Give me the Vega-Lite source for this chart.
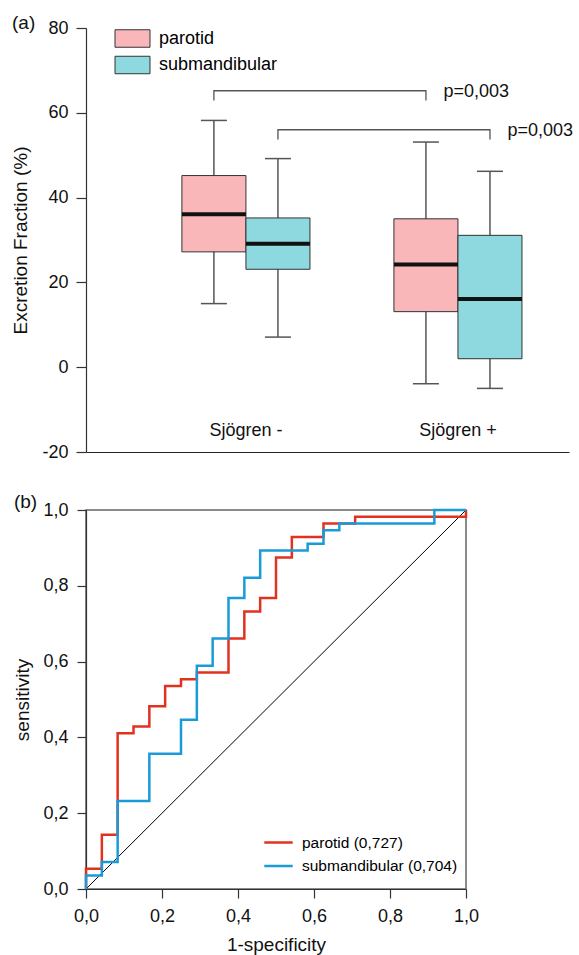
{
  "$schema": "https://vega.github.io/schema/vega-lite/v6.json",
  "padding": {"left": 11, "top": 14, "right": 0, "bottom": 0},
  "config": {
    "font": "Liberation Sans",
    "view": {"stroke": null},
    "axis": {"grid": false, "labelFontSize": 18, "titleFontSize": 19, "titleFontWeight": "normal", "labelColor": "#111", "titleColor": "#111", "domainColor": "#333", "tickColor": "#333", "domainWidth": 1.2, "tickWidth": 1.2},
    "title": {"fontSize": 19, "fontWeight": "normal", "color": "#111"},
    "concat": {"spacing": 31}
  },
  "resolve": {"scale": {"color": "independent"}, "legend": {"color": "independent"}},
  "datasets": {
    "boxes": [
      {"group": "Sjögren -", "gland": "parotid", "lower": 15, "q1": 27.2, "median": 36.1, "q3": 45.2, "upper": 58.2},
      {"group": "Sjögren -", "gland": "submandibular", "lower": 7.1, "q1": 23.1, "median": 29.1, "q3": 35.2, "upper": 49.2},
      {"group": "Sjögren +", "gland": "parotid", "lower": -3.9, "q1": 13.1, "median": 24.2, "q3": 35.0, "upper": 53.1},
      {"group": "Sjögren +", "gland": "submandibular", "lower": -5.0, "q1": 2.0, "median": 16.1, "q3": 31.1, "upper": 46.2}
    ],
    "brackets": [
      {"bracket": "a", "seq": 1, "group": "Sjögren -", "gland": "parotid", "level": 62.9},
      {"bracket": "a", "seq": 2, "group": "Sjögren -", "gland": "parotid", "level": 65.2},
      {"bracket": "a", "seq": 3, "group": "Sjögren +", "gland": "parotid", "level": 65.2},
      {"bracket": "a", "seq": 4, "group": "Sjögren +", "gland": "parotid", "level": 62.9},
      {"bracket": "b", "seq": 1, "group": "Sjögren -", "gland": "submandibular", "level": 53.7},
      {"bracket": "b", "seq": 2, "group": "Sjögren -", "gland": "submandibular", "level": 56.0},
      {"bracket": "b", "seq": 3, "group": "Sjögren +", "gland": "submandibular", "level": 56.0},
      {"bracket": "b", "seq": 4, "group": "Sjögren +", "gland": "submandibular", "level": 53.7}
    ],
    "pvals": [
      {"group": "Sjögren +", "gland": "parotid", "level": 63.7, "label": "p=0,003"},
      {"group": "Sjögren +", "gland": "submandibular", "level": 54.5, "label": "p=0,003"}
    ],
    "diag": [
      {"fpr": 0, "tpr": 0},
      {"fpr": 1, "tpr": 1}
    ],
    "roc": [
      {"series": "parotid (0,727)", "fpr": 0, "tpr": 0},
      {"series": "parotid (0,727)", "fpr": 0, "tpr": 0.0536},
      {"series": "parotid (0,727)", "fpr": 0.0417, "tpr": 0.1429},
      {"series": "parotid (0,727)", "fpr": 0.0833, "tpr": 0.4107},
      {"series": "parotid (0,727)", "fpr": 0.125, "tpr": 0.4286},
      {"series": "parotid (0,727)", "fpr": 0.1667, "tpr": 0.4821},
      {"series": "parotid (0,727)", "fpr": 0.2083, "tpr": 0.5357},
      {"series": "parotid (0,727)", "fpr": 0.25, "tpr": 0.5536},
      {"series": "parotid (0,727)", "fpr": 0.2917, "tpr": 0.5714},
      {"series": "parotid (0,727)", "fpr": 0.375, "tpr": 0.6607},
      {"series": "parotid (0,727)", "fpr": 0.4167, "tpr": 0.7321},
      {"series": "parotid (0,727)", "fpr": 0.4583, "tpr": 0.7679},
      {"series": "parotid (0,727)", "fpr": 0.5, "tpr": 0.875},
      {"series": "parotid (0,727)", "fpr": 0.5417, "tpr": 0.9286},
      {"series": "parotid (0,727)", "fpr": 0.625, "tpr": 0.9643},
      {"series": "parotid (0,727)", "fpr": 0.7083, "tpr": 0.9821},
      {"series": "parotid (0,727)", "fpr": 1, "tpr": 1},
      {"series": "submandibular (0,704)", "fpr": 0, "tpr": 0},
      {"series": "submandibular (0,704)", "fpr": 0, "tpr": 0.0357},
      {"series": "submandibular (0,704)", "fpr": 0.0417, "tpr": 0.0714},
      {"series": "submandibular (0,704)", "fpr": 0.0833, "tpr": 0.2321},
      {"series": "submandibular (0,704)", "fpr": 0.1667, "tpr": 0.3571},
      {"series": "submandibular (0,704)", "fpr": 0.25, "tpr": 0.4464},
      {"series": "submandibular (0,704)", "fpr": 0.2917, "tpr": 0.5893},
      {"series": "submandibular (0,704)", "fpr": 0.3333, "tpr": 0.6607},
      {"series": "submandibular (0,704)", "fpr": 0.375, "tpr": 0.7679},
      {"series": "submandibular (0,704)", "fpr": 0.4167, "tpr": 0.8214},
      {"series": "submandibular (0,704)", "fpr": 0.4583, "tpr": 0.8929},
      {"series": "submandibular (0,704)", "fpr": 0.5833, "tpr": 0.9107},
      {"series": "submandibular (0,704)", "fpr": 0.625, "tpr": 0.9464},
      {"series": "submandibular (0,704)", "fpr": 0.6667, "tpr": 0.9643},
      {"series": "submandibular (0,704)", "fpr": 0.9167, "tpr": 1},
      {"series": "submandibular (0,704)", "fpr": 1, "tpr": 1}
    ]
  },
  "vconcat": [
    {
      "width": 483,
      "height": 424,
      "title": {"text": "(a)", "anchor": "start", "frame": "bounds", "dy": 18, "dx": 0},
      "encoding": {
        "x": {"field": "group", "type": "nominal", "sort": ["Sjögren -", "Sjögren +"],
              "scale": {"paddingInner": 0.396, "paddingOuter": 0.337, "align": 0.671},
              "axis": {"title": null, "ticks": false, "labelPadding": -31, "labelAngle": 0, "domainColor": "#222"}},
        "xOffset": {"field": "gland", "type": "nominal", "sort": ["parotid", "submandibular"], "scale": {"paddingInner": 0, "paddingOuter": 0}}
      },
      "layer": [
        {
          "data": {"name": "boxes"},
          "mark": {"type": "rule", "color": "#555", "strokeWidth": 1.5},
          "encoding": {
            "y": {"field": "lower", "type": "quantitative", "title": "Excretion Fraction (%)",
                  "scale": {"domain": [-20, 80], "nice": false},
                  "axis": {"values": [-20, 0, 20, 40, 60, 80], "labelExpr": "replace(datum.label, '−', '-')", "tickSize": 10, "labelPadding": 8, "titlePadding": 11}},
            "y2": {"field": "upper"}
          }
        },
        {
          "data": {"name": "boxes"},
          "mark": {"type": "tick", "color": "#555", "thickness": 1.5, "size": 26, "opacity": 1},
          "encoding": {"y": {"field": "lower", "type": "quantitative", "title": "Excretion Fraction (%)"}}
        },
        {
          "data": {"name": "boxes"},
          "mark": {"type": "tick", "color": "#555", "thickness": 1.5, "size": 26, "opacity": 1},
          "encoding": {"y": {"field": "upper", "type": "quantitative", "title": "Excretion Fraction (%)"}}
        },
        {
          "data": {"name": "boxes"},
          "mark": {"type": "bar", "stroke": "#333", "strokeWidth": 1, "opacity": 1},
          "encoding": {
            "y": {"field": "q1", "type": "quantitative", "title": "Excretion Fraction (%)"},
            "y2": {"field": "q3"},
            "color": {"field": "gland", "type": "nominal",
                      "scale": {"domain": ["parotid", "submandibular"], "range": ["#F9B7BA", "#8DD9DF"]},
                      "legend": {"orient": "none", "legendX": 37, "legendY": 1, "title": null,
                                 "symbolType": "M-2,-1H2V1H-2Z", "symbolSize": 306,
                                 "symbolStrokeColor": "#333", "symbolStrokeWidth": 1, "symbolOpacity": 1,
                                 "labelFontSize": 18, "labelOffset": 17, "rowPadding": 3.5, "padding": 0}}
          }
        },
        {
          "data": {"name": "boxes"},
          "mark": {"type": "tick", "color": "#111", "thickness": 4, "size": 64, "opacity": 1},
          "encoding": {"y": {"field": "median", "type": "quantitative", "title": "Excretion Fraction (%)"}}
        },
        {
          "data": {"name": "brackets"},
          "mark": {"type": "line", "color": "#555", "strokeWidth": 1.3},
          "encoding": {
            "y": {"field": "level", "type": "quantitative", "title": "Excretion Fraction (%)"},
            "detail": {"field": "bracket"},
            "order": {"field": "seq"}
          }
        },
        {
          "data": {"name": "pvals"},
          "mark": {"type": "text", "align": "left", "baseline": "alphabetic", "dx": 17.6, "fontSize": 18, "color": "#111"},
          "encoding": {
            "y": {"field": "level", "type": "quantitative", "title": "Excretion Fraction (%)"},
            "text": {"field": "label"}
          }
        }
      ]
    },
    {
      "width": 380,
      "height": 379,
      "view": {"stroke": "#666", "strokeWidth": 1.5},
      "title": {"text": "(b)", "anchor": "start", "frame": "bounds", "dy": 15, "dx": 0},
      "layer": [
        {
          "data": {"name": "diag"},
          "mark": {"type": "line", "color": "#000", "strokeWidth": 1},
          "encoding": {
            "x": {"field": "fpr", "type": "quantitative", "title": "1-specificity",
                  "scale": {"domain": [0, 1], "nice": false},
                  "axis": {"values": [0, 0.2, 0.4, 0.6, 0.8, 1], "labelExpr": "replace(format(datum.value, '.1f'), '.', ',')", "labelFlush": false, "tickSize": 9, "labelPadding": 9, "titlePadding": 10}},
            "y": {"field": "tpr", "type": "quantitative", "title": "sensitivity",
                  "scale": {"domain": [0, 1], "nice": false},
                  "axis": {"values": [0, 0.2, 0.4, 0.6, 0.8, 1], "labelExpr": "replace(format(datum.value, '.1f'), '.', ',')", "labelFlush": false, "tickSize": 9, "labelPadding": 9, "titlePadding": 10}}
          }
        },
        {
          "data": {"name": "roc"},
          "mark": {"type": "line", "interpolate": "step-after", "strokeWidth": 2.5},
          "encoding": {
            "x": {"field": "fpr", "type": "quantitative", "title": "1-specificity"},
            "y": {"field": "tpr", "type": "quantitative", "title": "sensitivity"},
            "order": [{"field": "fpr", "type": "quantitative"}, {"field": "tpr", "type": "quantitative"}],
            "color": {"field": "series", "type": "nominal",
                      "scale": {"domain": ["parotid (0,727)", "submandibular (0,704)"], "range": ["#E0321F", "#1A9BD7"]},
                      "legend": {"orient": "none", "legendX": 184, "legendY": 324, "title": null,
                                 "symbolType": "M-2,0H2", "symbolSize": 202, "symbolStrokeWidth": 2.5,
                                 "labelFontSize": 15.5, "labelOffset": 15, "rowPadding": 6.5, "padding": 0}}
          }
        }
      ]
    }
  ]
}
